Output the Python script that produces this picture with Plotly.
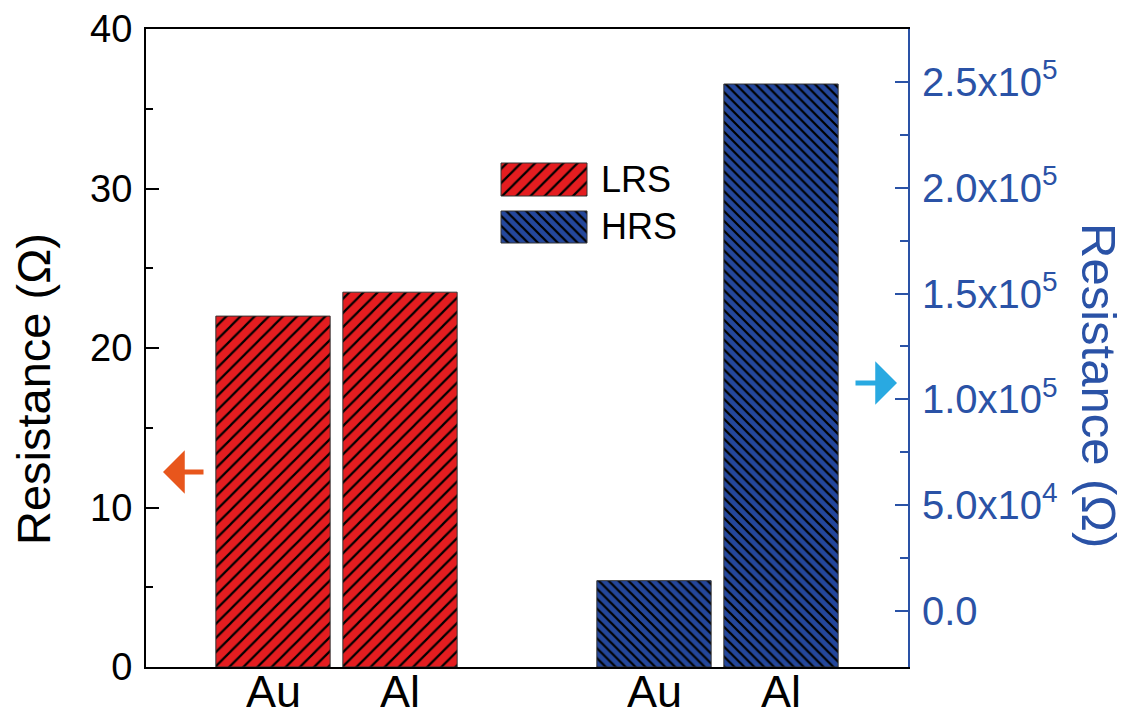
import plotly.graph_objects as go

# Contact metals and bar positions on the shared x axis
metals = ["Au", "Al"]
lrs_x = [1, 2]
hrs_x = [4, 5]
tick_positions = [1, 2, 4, 5]
tick_labels = ["Au", "Al", "Au", "Al"]

# Resistance values (ohm)
lrs_values = [22.0, 23.5]          # low resistance state, left axis
hrs_values = [1.43e4, 2.49e5]      # high resistance state, right axis

# Right axis ticks
hrs_tickvals = [0, 5e4, 1e5, 1.5e5, 2e5, 2.5e5]
hrs_ticktext = ["0.0", "5.0x10<sup>4</sup>", "1.0x10<sup>5</sup>",
                "1.5x10<sup>5</sup>", "2.0x10<sup>5</sup>", "2.5x10<sup>5</sup>"]
hrs_minor = [2.5e4, 7.5e4, 1.25e5, 1.75e5, 2.25e5]

LRS_RANGE = [0, 40]
HRS_RANGE = [-2.65e4, 2.75e5]

RED = "#e41d20"
NAVY = "#24479b"
AXIS_BLUE = "#2a52a6"
FONT = "Liberation Sans, Arial, sans-serif"

W, H = 1128, 717
ML, MR, MT, MB = 146, 220, 29, 50
PW, PH = W - ML - MR, H - MT - MB


def px_to_paper(px, py):
    return (px - ML) / PW, (H - MB - py) / PH


lrs_pattern = dict(shape="/", fgcolor="#000000", bgcolor=RED, size=10, solidity=0.22)
hrs_pattern = dict(shape="\\", fgcolor="#000000", bgcolor=NAVY, size=7, solidity=0.32)
bar_line = dict(color="#333333", width=1)

fig = go.Figure()

fig.add_trace(go.Bar(
    x=lrs_x, y=lrs_values, width=0.9, name="LRS",
    marker=dict(color=RED, pattern=lrs_pattern, line=bar_line),
    xaxis="x", yaxis="y", showlegend=False,
))

# HRS bars rise from the bottom of the right axis
hrs_base = HRS_RANGE[0]
fig.add_trace(go.Bar(
    x=hrs_x, y=[v - hrs_base for v in hrs_values], base=[hrs_base] * len(hrs_values),
    width=0.9, name="HRS",
    marker=dict(color=NAVY, pattern=hrs_pattern, line=bar_line),
    xaxis="x", yaxis="y2", showlegend=False,
))

# Legend swatches drawn as patterned bars on a hidden unit-square axis pair
legend_items = [("LRS", lrs_pattern, RED, 163, 196), ("HRS", hrs_pattern, NAVY, 211, 243)]
sw_x0, sw_x1 = px_to_paper(501, 0)[0], px_to_paper(587, 0)[0]
for label, pat, col, top_px, bot_px in legend_items:
    y_bot = px_to_paper(0, bot_px)[1]
    y_top = px_to_paper(0, top_px)[1]
    fig.add_trace(go.Bar(
        x=[(sw_x0 + sw_x1) / 2], y=[y_top - y_bot], base=[y_bot], width=sw_x1 - sw_x0,
        marker=dict(color=col, pattern=pat, line=bar_line),
        xaxis="x3", yaxis="y3", showlegend=False, hoverinfo="skip",
    ))
    fig.add_annotation(
        x=px_to_paper(599, 0)[0], y=(y_top + y_bot) / 2, xref="paper", yref="paper",
        text=label, showarrow=False, xanchor="left", yanchor="middle",
        font=dict(family=FONT, size=36, color="black"),
    )

# Category labels under the bars
for pos, lab in zip(tick_positions, tick_labels):
    fig.add_annotation(
        x=pos, y=0, xref="x", yref="paper", yshift=1, height=48, valign="middle",
        text=lab, showarrow=False, borderpad=0,
        xanchor="center", yanchor="top", font=dict(family=FONT, size=45, color="black"),
    )

# Axis titles
fig.add_annotation(
    x=px_to_paper(33, 0)[0], y=px_to_paper(0, 389)[1], xref="paper", yref="paper",
    text="Resistance (Ω)", textangle=-90, showarrow=False,
    xanchor="center", yanchor="middle", font=dict(family=FONT, size=47, color="black"),
)
fig.add_annotation(
    x=px_to_paper(1099, 0)[0], y=px_to_paper(0, 385)[1], xref="paper", yref="paper",
    text="Resistance (Ω)", textangle=90, showarrow=False,
    xanchor="center", yanchor="middle", font=dict(family=FONT, size=49, color=AXIS_BLUE),
)

# Arrows pointing to each state's axis
hx, hy = px_to_paper(163, 472)
fig.add_annotation(x=hx, y=hy, xref="paper", yref="paper", ax=42, ay=0, text="",
                   showarrow=True, arrowhead=1, arrowsize=1.45, arrowwidth=5,
                   arrowcolor="#e8561c", standoff=0)
hx, hy = px_to_paper(897, 383)
fig.add_annotation(x=hx, y=hy, xref="paper", yref="paper", ax=-43, ay=0, text="",
                   showarrow=True, arrowhead=1, arrowsize=1.45, arrowwidth=5,
                   arrowcolor="#29a9e1", standoff=0)

fig.update_layout(
    template="none",
    width=W, height=H,
    margin=dict(l=ML, r=MR, t=MT, b=MB, pad=0, autoexpand=False),
    paper_bgcolor="white", plot_bgcolor="white",
    barmode="overlay",
    font=dict(family=FONT, color="black"),
    xaxis=dict(
        range=[0, 6], tickvals=tick_positions, showticklabels=False, automargin=False,
        ticks="", showline=True, linecolor="black", linewidth=2, mirror=True,
        showgrid=False, zeroline=False,
    ),
    yaxis=dict(
        range=LRS_RANGE, tickvals=[0, 10, 20, 30, 40], ticks="inside", ticklen=13, tickwidth=2,
        tickcolor="black", showline=True, linecolor="black", linewidth=2, automargin=False,
        showgrid=False, zeroline=False, tickfont=dict(size=38, family=FONT),
        ticklabelstandoff=4,
        minor=dict(tickvals=[5, 15, 25, 35], ticks="inside", ticklen=7, tickwidth=2,
                   tickcolor="black", showgrid=False),
    ),
    yaxis2=dict(
        range=HRS_RANGE, overlaying="y", side="right", anchor="x", automargin=False,
        tickvals=hrs_tickvals, ticktext=hrs_ticktext,
        ticks="inside", ticklen=13, tickwidth=2, tickcolor=AXIS_BLUE,
        showline=True, linecolor=AXIS_BLUE, linewidth=2,
        showgrid=False, zeroline=False, tickfont=dict(size=40, family=FONT, color=AXIS_BLUE),
        ticklabelstandoff=4,
        minor=dict(tickvals=hrs_minor, ticks="inside", ticklen=8, tickwidth=2,
                   tickcolor=AXIS_BLUE, showgrid=False),
    ),
    xaxis3=dict(range=[0, 1], overlaying="x", visible=False, fixedrange=True, automargin=False),
    yaxis3=dict(range=[0, 1], overlaying="y", visible=False, fixedrange=True, anchor="x3",
                automargin=False),
)

fig.write_html("out.html")
